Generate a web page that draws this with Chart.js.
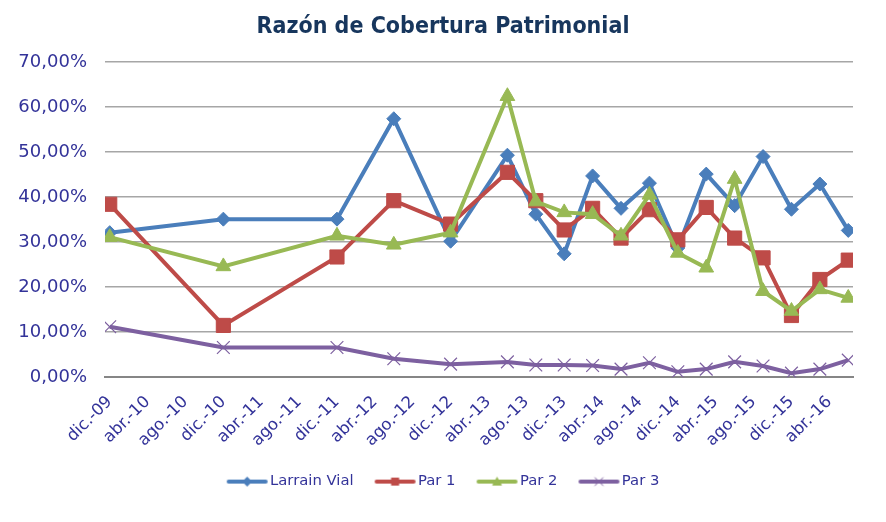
<!DOCTYPE html>
<html>
<head>
<meta charset="utf-8">
<script src="https://cdn.jsdelivr.net/npm/chart.js@4.4.0/dist/chart.umd.min.js"></script>
<style>
  body { margin: 0; background: #fff; }
  #wrap { width: 886px; height: 522px; }
</style>
</head>
<body>
<div id="wrap"><canvas id="chart" width="886" height="522"></canvas></div>
<script>
// fechas de cada observación
const dates = ["dic.-09", "dic.-10", "dic.-11", "jun.-12", "dic.-12", "jun.-13", "sep.-13", "dic.-13",
  "mar.-14", "jun.-14", "sep.-14", "dic.-14", "mar.-15", "jun.-15", "sep.-15", "dic.-15", "mar.-16", "jun.-16"];

// etiquetas del eje x (cada 4 meses)
const tickLabels = ["dic.-09", "abr.-10", "ago.-10", "dic.-10", "abr.-11", "ago.-11", "dic.-11", "abr.-12",
  "ago.-12", "dic.-12", "abr.-13", "ago.-13", "dic.-13", "abr.-14", "ago.-14", "dic.-14", "abr.-15",
  "ago.-15", "dic.-15", "abr.-16"];

// series (%)
const larrainVial = [32.1, 35.1, 35.1, 57.4, 30.2, 49.3, 36.2, 27.4, 44.7, 37.5, 43.1, 28.7, 45.1, 38.1, 49.0, 37.3, 42.9, 32.6];
const par1 = [38.4, 11.5, 26.7, 39.2, 34.0, 45.5, 39.2, 32.7, 37.5, 30.9, 37.2, 30.5, 37.7, 30.9, 26.5, 13.7, 21.7, 26.0];
const par2 = [31.1, 24.6, 31.4, 29.4, 32.1, 62.4, 39.0, 36.6, 36.2, 31.4, 40.5, 27.6, 24.3, 44.0, 19.1, 14.7, 19.5, 17.6];
const par3 = [11.2, 6.6, 6.6, 4.1, 2.9, 3.4, 2.7, 2.7, 2.6, 1.8, 3.2, 1.2, 1.8, 3.4, 2.5, 0.9, 1.8, 3.8];

const months = ["ene", "feb", "mar", "abr", "may", "jun", "jul", "ago", "sep", "oct", "nov", "dic"];
// meses transcurridos desde dic.-09
function monthIndex(label) {
  const m = months.indexOf(label.slice(0, 3));
  const y = parseInt(label.slice(-2), 10);
  return (y - 9) * 12 + m - 11;
}
const tickMap = {};
tickLabels.forEach((l) => (tickMap[monthIndex(l)] = l));

function toPoints(values) {
  return values.map((v, i) => ({ x: monthIndex(dates[i]), y: v }));
}

const textColor = "#333399";

// icono de leyenda: línea con marcador (48 px, marcador algo a la derecha del centro)
function legendIcon(color, style) {
  const c = document.createElement("canvas");
  c.width = 48;
  c.height = 14;
  const ctx = c.getContext("2d");
  const mx = 26.5;
  ctx.strokeStyle = color;
  ctx.lineWidth = 4;
  ctx.lineCap = "round";
  ctx.beginPath();
  ctx.moveTo(8, 7);
  ctx.lineTo(45, 7);
  ctx.stroke();
  ctx.fillStyle = color;
  ctx.lineWidth = 1;
  ctx.beginPath();
  if (style === "rectRot") {
    ctx.moveTo(mx, 2); ctx.lineTo(mx + 5, 7); ctx.lineTo(mx, 12); ctx.lineTo(mx - 5, 7);
    ctx.closePath(); ctx.fill();
  } else if (style === "rect") {
    ctx.fillRect(mx - 4, 3, 8, 8);
  } else if (style === "triangle") {
    ctx.moveTo(mx, 2); ctx.lineTo(mx + 5, 11); ctx.lineTo(mx - 5, 11);
    ctx.closePath(); ctx.fill();
  } else {
    ctx.moveTo(mx - 4, 3); ctx.lineTo(mx + 4, 11); ctx.moveTo(mx + 4, 3); ctx.lineTo(mx - 4, 11);
    ctx.stroke();
  }
  return c;
}

const series = [
  { label: "Larrain Vial", data: larrainVial, color: "#4A7EBB", style: "rectRot", radius: 7, order: 3 },
  { label: "Par 1", data: par1, color: "#BE4B48", style: "rect", radius: 10, order: 2 },
  { label: "Par 2", data: par2, color: "#98B954", style: "triangle", radius: 8.5, order: 1 },
  { label: "Par 3", data: par3, color: "#7D60A0", style: "crossRot", radius: 9, order: 0 },
];

const ctx = document.getElementById("chart").getContext("2d");
new Chart(ctx, {
  type: "line",
  data: {
    datasets: series.map((s) => ({
      label: s.label,
      data: toPoints(s.data),
      borderColor: s.color,
      backgroundColor: s.color,
      borderWidth: 4,
      pointStyle: s.style,
      pointRadius: s.radius,
      pointBorderWidth: s.style === "crossRot" ? 1.2 : 1,
      pointBorderColor: s.color,
      pointBackgroundColor: s.color,
      tension: 0,
      order: s.order,
    })),
  },
  options: {
    responsive: false,
    animation: false,
    layout: { padding: { left: 0, right: 0, top: 0, bottom: 23 } },
    plugins: {
      title: {
        display: true,
        text: "Razón de Cobertura Patrimonial",
        color: "#17365D",
        font: { family: "DejaVu Sans Condensed", weight: "bold", size: 23 },
        padding: { top: 13, bottom: 21.4 },
      },
      legend: {
        position: "bottom",
        labels: {
          usePointStyle: true,
          pointStyleWidth: 36,
          boxHeight: 14,
          padding: 21,
          color: textColor,
          font: { family: "DejaVu Sans", size: 14.8 },
          generateLabels: (chart) =>
            series.map((s, i) => ({
              text: s.label,
              pointStyle: legendIcon(s.color, s.style),
              fontColor: textColor,
              lineWidth: 0,
              datasetIndex: i,
              hidden: false,
            })),
        },
      },
      tooltip: { enabled: false },
    },
    scales: {
      x: {
        type: "linear",
        min: -0.5,
        max: 78.5,
        afterBuildTicks: (scale) => {
          scale.ticks = tickLabels.map((l) => ({ value: monthIndex(l) }));
        },
        afterFit: (scale) => {
          scale.height = 76;
        },
        ticks: {
          autoSkip: false,
          minRotation: 45,
          maxRotation: 45,
          padding: 15,
          color: textColor,
          font: { family: "DejaVu Sans", size: 16.5 },
          callback: (v) => tickMap[v] || "",
        },
        grid: { display: false, drawTicks: false },
        border: { color: "#868686", width: 2 },
      },
      y: {
        min: 0,
        max: 70,
        afterFit: (scale) => {
          scale.width = 105;
        },
        ticks: {
          stepSize: 10,
          padding: 18,
          color: textColor,
          font: { family: "DejaVu Sans", size: 18 },
          callback: (v) => v.toFixed(2).replace(".", ",") + "%",
        },
        grid: { color: "#A6A6A6", lineWidth: 1.5, drawTicks: false },
        border: { display: false },
      },
      // margen derecho vacío
      yRight: {
        position: "right",
        min: 0,
        max: 70,
        afterFit: (scale) => {
          scale.width = 33;
        },
        ticks: { display: false },
        grid: { display: false, drawTicks: false },
        border: { display: false },
      },
    },
  },
});
</script>
</body>
</html>
